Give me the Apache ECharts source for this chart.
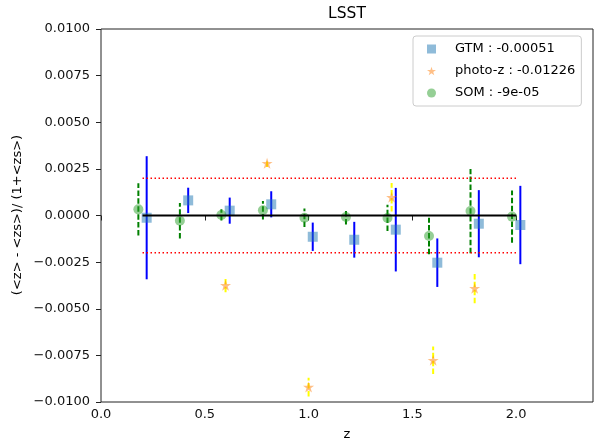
<!DOCTYPE html>
<html>
<head>
<meta charset="utf-8">
<script src="https://cdn.jsdelivr.net/npm/echarts@6/dist/echarts.min.js"></script>
<style>
  html, body { margin: 0; padding: 0; background: #ffffff; }
  #chart { width: 594px; height: 443px; }
</style>
</head>
<body>
<div id="chart"></div>
<script>
// Redshift bins and mean-redshift bias per method
const gtmZ = [0.22, 0.42, 0.62, 0.82, 1.02, 1.22, 1.42, 1.62, 1.82, 2.02];
const gtmBias = [-0.00012, 0.00081, 0.00026, 0.0006, -0.00114, -0.0013, -0.00076, -0.00253, -0.00044, -0.00051];
const gtmErr = [0.0033, 0.00068, 0.0007, 0.0007, 0.00076, 0.00096, 0.00224, 0.0013, 0.0018, 0.0021];

const photoZ = [0.2, 0.4, 0.6, 0.8, 1.0, 1.2, 1.4, 1.6, 1.8, 2.0];
const photoBias = [-0.0312, -0.0205, -0.00374, 0.0028, -0.0092, -0.0143, 0.00098, -0.00776, -0.0039, -0.0358];
const photoErr = [0.001, 0.001, 0.00038, 0.0002, 0.0005, 0.001, 0.00076, 0.00074, 0.0008, 0.001];

const somZ = [0.18, 0.38, 0.58, 0.78, 0.98, 1.18, 1.38, 1.58, 1.78, 1.98];
const somBias = [0.00033, -0.00028, 0.00003, 0.00028, -0.00012, -0.00008, -0.00013, -0.0011, 0.00024, -0.00006];
const somErr = [0.0014, 0.00095, 0.0003, 0.0005, 0.0005, 0.0004, 0.0007, 0.00098, 0.00226, 0.0014];

const legendLabels = ['GTM : -0.00051', 'photo-z : -0.01226', 'SOM : -9e-05'];

// Reference lines: zero bias and the +/- requirement band
const refZ = [0.2, 2.0];
const bandLevel = 0.002;

const xTicks = [0.0, 0.5, 1.0, 1.5, 2.0];
const yTicks = [-0.01, -0.0075, -0.005, -0.0025, 0, 0.0025, 0.005, 0.0075, 0.01];

const FONT = 'DejaVu Sans';
const STAR = 'path://M50,0 L61.2,34.5 L97.6,34.5 L68.2,55.9 L79.4,90.5 L50,69.1 L20.6,90.5 L31.8,55.9 L2.4,34.5 L38.8,34.5 Z';

const colGTM = 'rgba(31,119,180,0.5)';
const colPhoto = 'rgba(255,127,14,0.5)';
const colSOM = 'rgba(44,160,44,0.5)';

function pts(xs, ys) { return xs.map((x, i) => [x, ys[i]]); }
function errPts(xs, ys, es) { return xs.map((x, i) => [x, ys[i], es[i]]); }

function errorBars(name, xs, ys, es, stroke, dash) {
  return {
    type: 'custom',
    name: name + '_err',
    clip: true,
    silent: true,
    data: errPts(xs, ys, es),
    encode: { x: 0, y: 1 },
    renderItem: function (params, api) {
      const x = api.value(0), y = api.value(1), e = api.value(2);
      const top = api.coord([x, y + e]);
      const bot = api.coord([x, y - e]);
      return {
        type: 'line',
        shape: { x1: bot[0], y1: bot[1], x2: top[0], y2: top[1] },
        style: { stroke: stroke, lineWidth: 2, lineDash: dash, lineCap: 'butt' }
      };
    }
  };
}

const chart = echarts.init(document.getElementById('chart'), null, { renderer: 'canvas' });

chart.setOption({
  animation: false,
  backgroundColor: '#ffffff',
  grid: {
    left: 101, right: 1, top: 29, bottom: 41,
    show: true, borderColor: '#222', borderWidth: 1, backgroundColor: 'transparent'
  },
  xAxis: {
    type: 'value', min: 0, max: 2.37,
    axisLine: { show: false },
    splitLine: { show: false },
    axisTick: { show: true, length: 5, customValues: xTicks, lineStyle: { color: '#222', width: 1 } },
    axisLabel: {
      customValues: xTicks, margin: 6,
      fontFamily: FONT, fontSize: 13, color: '#111',
      formatter: v => v.toFixed(1)
    }
  },
  yAxis: {
    type: 'value', min: -0.01, max: 0.01,
    axisLine: { show: false },
    splitLine: { show: false },
    axisTick: { show: true, length: 5, customValues: yTicks, lineStyle: { color: '#222', width: 1 } },
    axisLabel: {
      customValues: yTicks, margin: 11,
      fontFamily: FONT, fontSize: 13, color: '#111',
      formatter: v => (Math.abs(v) < 1e-12 ? '0.0000' : (v < 0 ? '\u2212' : '') + Math.abs(v).toFixed(4))
    }
  },
  legend: {
    left: 413, top: 36,
    orient: 'vertical',
    selectedMode: false,
    itemWidth: 9, itemHeight: 9, itemGap: 9,
    padding: [6.5, 6, 6.5, 14],
    backgroundColor: 'rgba(255,255,255,0.8)',
    borderColor: '#cccccc', borderWidth: 1, borderRadius: 3,
    textStyle: { fontFamily: FONT, fontSize: 13, color: '#000', padding: [0, 0, 0, 14] },
    data: [
      { name: legendLabels[0], icon: 'rect' },
      { name: legendLabels[1], icon: STAR },
      { name: legendLabels[2], icon: 'circle' }
    ]
  },
  graphic: [
    { type: 'text', x: 347, y: 14, style: { text: 'LSST', font: '15.5px "DejaVu Sans"', fill: '#000', align: 'center', verticalAlign: 'middle' } },
    { type: 'text', x: 347, y: 435, style: { text: 'z', font: '13px "DejaVu Sans"', fill: '#000', align: 'center', verticalAlign: 'middle' } },
    { type: 'text', x: 18, y: 215, rotation: Math.PI / 2, style: { text: '(<z> - <zs>)/ (1+<zs>)', font: '13px "DejaVu Sans"', fill: '#000', align: 'center', verticalAlign: 'middle' } }
  ],
  series: [
    {
      type: 'line', name: 'band_hi', silent: true, symbol: 'none',
      data: refZ.map(z => [z, bandLevel]),
      lineStyle: { color: '#ff0000', width: 1.5, type: [1.5, 2.5] }
    },
    {
      type: 'line', name: 'band_lo', silent: true, symbol: 'none',
      data: refZ.map(z => [z, -bandLevel]),
      lineStyle: { color: '#ff0000', width: 1.5, type: [1.5, 2.5] }
    },
    {
      type: 'line', name: 'zero', silent: true, symbol: 'none',
      data: refZ.map(z => [z, 0]),
      lineStyle: { color: '#000000', width: 2 }
    },
    errorBars('GTM', gtmZ, gtmBias, gtmErr, '#0000ff', null),
    errorBars('photo-z', photoZ, photoBias, photoErr, '#ffff00', [5.5, 2.4]),
    errorBars('SOM', somZ, somBias, somErr, '#008000', [5.5, 2.4]),
    {
      type: 'scatter', name: legendLabels[0], clip: true, symbol: 'rect', symbolSize: 10,
      data: pts(gtmZ, gtmBias), itemStyle: { color: colGTM, opacity: 1 }, emphasis: { disabled: true }
    },
    {
      type: 'scatter', name: legendLabels[1], clip: true, symbol: STAR, symbolSize: 11,
      data: pts(photoZ, photoBias), itemStyle: { color: colPhoto, opacity: 1 }, emphasis: { disabled: true }
    },
    {
      type: 'scatter', name: legendLabels[2], clip: true, symbol: 'circle', symbolSize: 10,
      data: pts(somZ, somBias), itemStyle: { color: colSOM, opacity: 1 }, emphasis: { disabled: true }
    }
  ]
});
</script>
</body>
</html>
